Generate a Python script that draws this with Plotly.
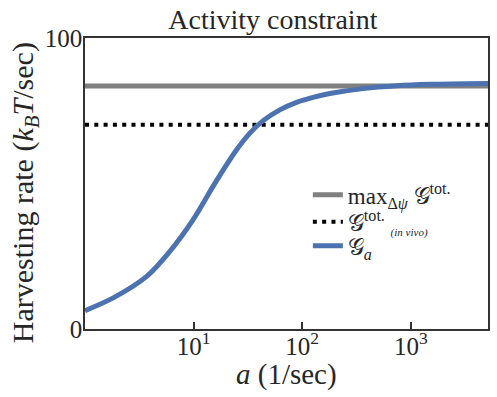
import plotly.graph_objects as go

# data
a_vals = [1.0, 1.82, 3.70, 6.05, 9.91, 15.1, 20.0, 24.9, 33.0, 43.7, 62.2, 88.7,
          126.0, 179.5, 363.0, 738.0, 1493.0, 5140.0]
G_a = [6.3, 10.7, 18.1, 26.7, 37.6, 49.0, 56.3, 61.6, 67.3, 71.6, 75.3, 77.9,
       79.6, 80.9, 82.6, 83.6, 84.1, 84.4]
x_limits = [1.0, 5140.0]
max_tot = 83.5
in_vivo = 70.2
x_tickvals = [10, 100, 1000]
x_ticktext = ["10<sup>1</sup>", "10<sup>2</sup>", "10<sup>3</sup>"]
y_tickvals = [0, 100]
y_ticktext = ["0", "100"]

FONT = "Liberation Serif"
BLUE = "#4c72b0"
TXT = "#262626"

fig = go.Figure()
fig.add_trace(go.Scatter(
    x=x_limits, y=[max_tot, max_tot], mode="lines",
    line=dict(color="#808080", width=5),
    name="max<sub>Δ<i>ψ</i></sub> 𝒢<sup>tot.</sup>", legend="legend"))
fig.add_trace(go.Scatter(
    x=x_limits, y=[in_vivo, in_vivo], mode="lines",
    line=dict(color="black", width=4, dash="4px,5.3px"),
    name="𝒢<sup>tot.</sup> <sub><span style='font-size:11px'><i>(in vivo)</i></span></sub>",
    legend="legend2"))
fig.add_trace(go.Scatter(
    x=a_vals, y=G_a, mode="lines", line_shape="spline",
    line=dict(color=BLUE, width=5, smoothing=0.8),
    name="𝒢<sub><i>a</i></sub>", legend="legend3"))

leg_common = dict(xanchor="left", yanchor="middle", bgcolor="rgba(255,255,255,0)",
                  font=dict(size=23, family=FONT, color=TXT), itemwidth=30)

fig.update_layout(
    width=497, height=397,
    margin=dict(l=85, r=9, t=38, b=68),
    paper_bgcolor="white", plot_bgcolor="white",
    font=dict(family=FONT, color=TXT, size=26),
    title=dict(text="Activity constraint", x=0.549, xanchor="center",
               y=0.952, yanchor="middle", font=dict(size=28, family=FONT, color=TXT)),
    showlegend=True,
    legend=dict(x=0.553, y=0.461, **leg_common),
    legend2=dict(x=0.553, y=0.368, **leg_common),
    legend3=dict(x=0.553, y=0.286, **leg_common),
    annotations=[
        dict(text="Harvesting rate (<i>k</i><sub><i>B</i></sub><i>T</i>/sec)",
             xref="paper", yref="paper", x=-0.149, y=0.47, textangle=-90,
             showarrow=False, xanchor="center", yanchor="middle",
             font=dict(size=30, family=FONT, color=TXT)),
        dict(text="<i>a</i> (1/sec)",
             xref="paper", yref="paper", x=0.5, y=-0.157,
             showarrow=False, xanchor="center", yanchor="middle",
             font=dict(size=29, family=FONT, color=TXT)),
    ],
)
fig.update_xaxes(
    type="log", range=[0, 3.711], automargin=False,
    tickvals=x_tickvals, ticktext=x_ticktext,
    ticks="inside", ticklen=7, tickwidth=1.5, tickcolor="#333333",
    ticklabelstandoff=-6,
    showgrid=False, zeroline=False,
    showline=True, linecolor="#333333", linewidth=1.5, mirror=True,
    tickfont=dict(size=25, family=FONT, color=TXT),
)
fig.update_yaxes(
    range=[0, 100], tickvals=y_tickvals, ticktext=y_ticktext, automargin=False,
    ticks="", ticklabelstandoff=-4, showgrid=False, zeroline=False,
    showline=True, linecolor="#333333", linewidth=1.5, mirror=True,
    tickfont=dict(size=25, family=FONT, color=TXT),
)

fig.write_html("out.html", post_script="document.body.style.margin='0px';",
               config={"displayModeBar": False})
